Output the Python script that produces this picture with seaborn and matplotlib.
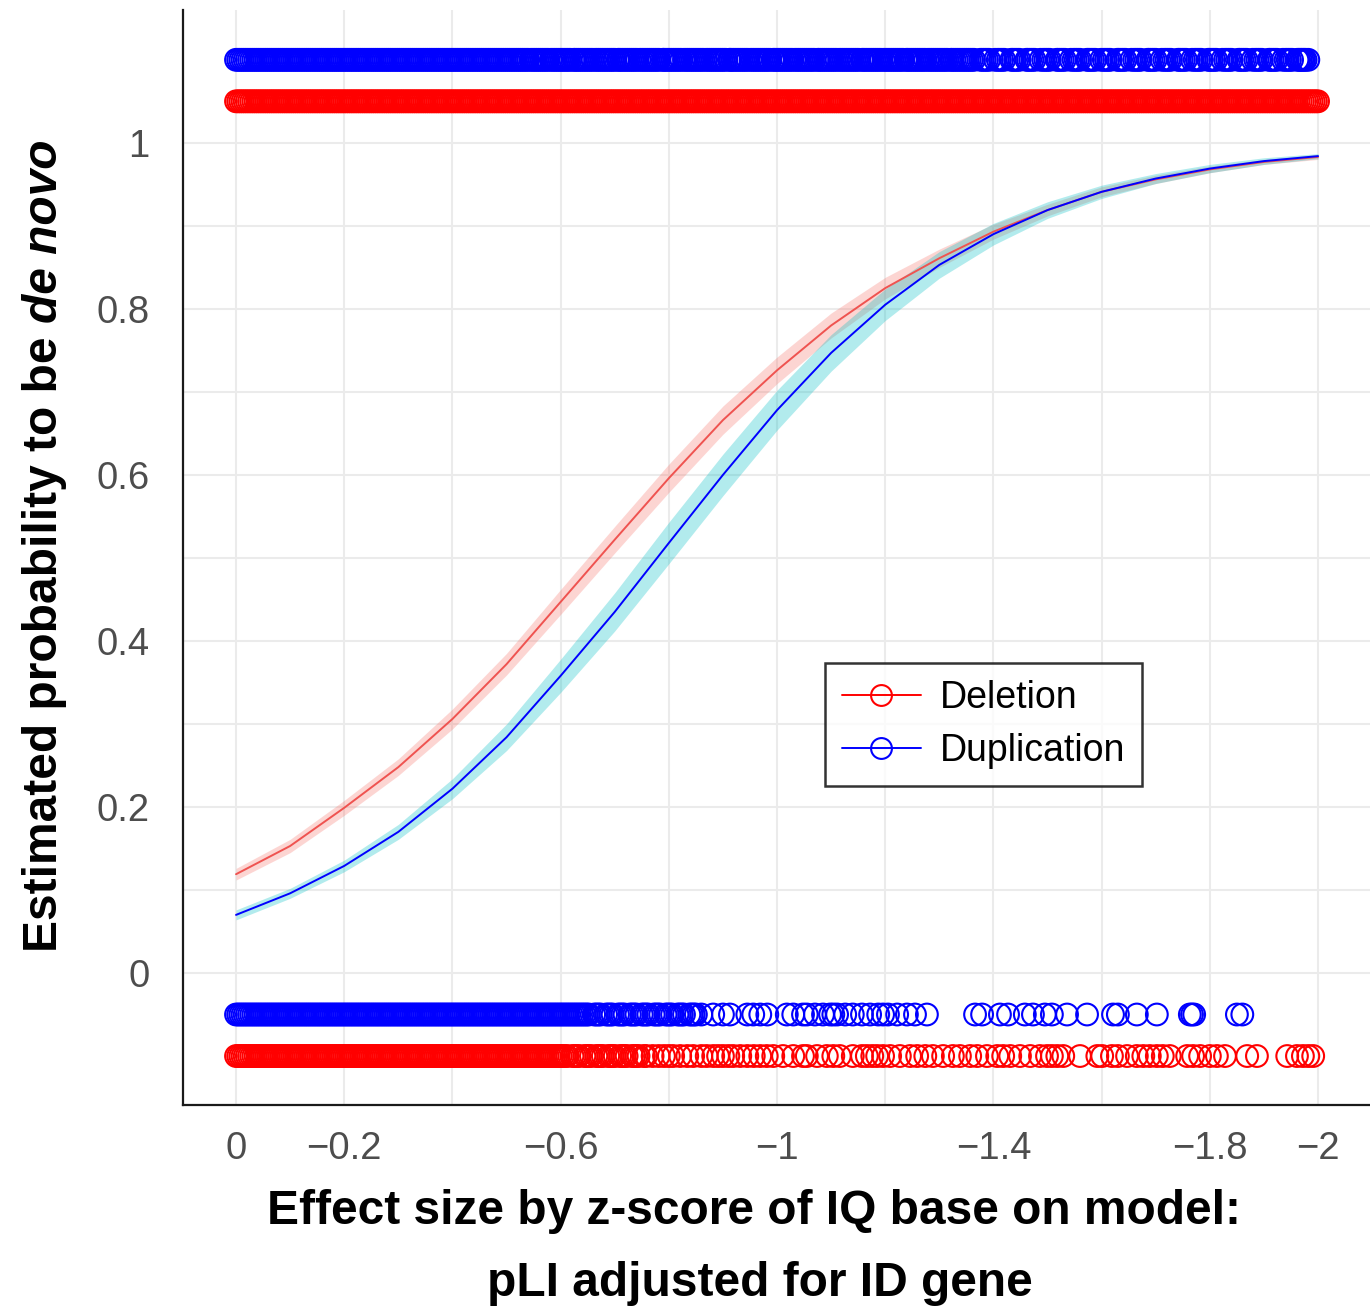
import numpy as np
import pandas as pd
import matplotlib
matplotlib.use("Agg")
import matplotlib.pyplot as plt
import seaborn as sns
from matplotlib.lines import Line2D

sns.set_style("white")
plt.rcParams["font.family"] = ["Liberation Sans", "DejaVu Sans"]

# ---------------- fitted logistic curves ----------------
x_fit = [0, -0.1, -0.2, -0.3, -0.4, -0.5, -0.6, -0.7, -0.8, -0.9, -1.0,
         -1.1, -1.2, -1.3, -1.4, -1.5, -1.6, -1.7, -1.8, -1.9, -2.0]
del_fit = [0.119, 0.153, 0.199, 0.248, 0.306, 0.372, 0.447, 0.522, 0.596, 0.666, 0.726,
           0.780, 0.825, 0.861, 0.893, 0.919, 0.941, 0.956, 0.968, 0.977, 0.983]
del_lo = [0.112, 0.145, 0.190, 0.238, 0.294, 0.359, 0.432, 0.506, 0.579, 0.649, 0.710,
          0.765, 0.812, 0.850, 0.884, 0.912, 0.935, 0.951, 0.964, 0.974, 0.980]
del_hi = [0.126, 0.161, 0.208, 0.258, 0.318, 0.385, 0.462, 0.538, 0.613, 0.683, 0.742,
          0.795, 0.838, 0.872, 0.902, 0.926, 0.947, 0.961, 0.972, 0.980, 0.986]
dup_fit = [0.070, 0.096, 0.129, 0.170, 0.222, 0.284, 0.358, 0.435, 0.518, 0.600, 0.678,
           0.747, 0.805, 0.853, 0.890, 0.919, 0.941, 0.957, 0.969, 0.978, 0.984]
dup_lo = [0.064, 0.090, 0.122, 0.161, 0.210, 0.268, 0.338, 0.412, 0.493, 0.575, 0.654,
          0.725, 0.786, 0.837, 0.877, 0.909, 0.933, 0.951, 0.964, 0.974, 0.981]
dup_hi = [0.076, 0.102, 0.136, 0.179, 0.234, 0.300, 0.378, 0.458, 0.543, 0.625, 0.702,
          0.769, 0.824, 0.869, 0.903, 0.929, 0.949, 0.963, 0.974, 0.982, 0.987]

# ---------------- observed CNVs (|effect size| in thousandths) ----------------
# de novo duplications (plotted at 1.10)
dup_denovo = [
    0,4,8,12,16,20,24,28,32,36,40,44,48,52,56,60,64,68,72,76,
    80,84,88,92,96,100,104,108,112,116,120,124,128,132,136,140,144,148,152,156,
    160,164,168,172,176,180,184,188,192,196,200,204,208,212,216,220,224,228,232,236,
    240,244,248,252,256,260,264,268,272,276,280,284,288,292,296,300,304,308,312,316,
    320,324,328,332,336,340,344,348,352,356,360,364,368,372,376,380,384,388,392,396,
    400,404,408,412,416,420,424,428,432,436,440,444,448,452,456,460,464,468,472,476,
    480,484,488,492,496,500,
    504,508,512,516,520,524,528,532,536,540,545,549,553,557,561,565,569,573,577,582,
    586,590,594,598,602,606,610,614,618,624,627,631,635,639,643,647,651,655,659,664,
    668,672,676,680,684,688,692,696,700,706,709,713,717,721,725,729,733,737,741,746,
    750,754,758,762,766,770,774,778,782,789,791,795,799,803,807,811,815,819,823,828,
    832,836,840,844,848,852,856,860,864,869,873,877,881,885,889,893,897,901,905,912,
    914,918,922,926,930,934,938,942,946,951,955,959,963,967,971,975,979,983,987,993,
    996,1000,1004,1008,1012,1016,1020,1024,1028,1033,1037,1041,1045,1049,1053,1057,1061,1065,1069,1075,
    1078,1082,1086,1090,1094,1098,1102,1106,1110,1115,1119,1123,1127,1131,1135,1139,1143,1147,1151,1157,
    1160,1164,1168,1172,1176,1180,1184,1188,1192,1197,1201,1205,1209,1213,1217,1221,1225,1229,1233,1239,
    1242,1246,1250,1254,1258,1262,1266,1270,1274,1279,1283,1287,1291,1295,1299,1303,1307,1311,1315,1321,
    1324,1328,1332,1336,1340,1344,1348,
    1352,1356,1360,1364,1376,1380,1384,1388,1392,1403,1408,1412,1416,1420,1433,1436,1440,1444,
    1448,1461,1464,1468,1472,1476,1487,1492,1496,1500,1504,1517,1520,1524,1528,1532,1543,1548,
    1552,1556,1560,1573,1576,1580,1584,1588,1599,1604,1608,1612,1616,1629,1632,1636,1640,1644,
    1655,1660,1664,1668,1672,1685,1688,1692,1696,1700,1711,1716,1720,1724,1728,1741,1744,1748,
    1752,1756,1767,1772,1776,1780,1784,1797,1800,1804,1808,1812,1823,1828,1832,1836,1840,1853,
    1856,1860,1864,1868,1879,1884,1888,1892,1896,1909,1912,1916,1920,1924,1935,1940,1944,1948,
    1952,1962,1965,1968,1971,1974,1977,1982]

# de novo deletions (plotted at 1.05)
del_denovo = [
    0,4,8,12,16,20,24,28,32,36,40,44,48,52,56,60,64,68,72,76,
    80,84,88,92,96,100,104,108,112,116,120,124,128,132,136,140,144,148,152,156,
    160,164,168,172,176,180,184,188,192,196,200,204,208,212,216,220,224,228,232,236,
    240,244,248,252,256,260,264,268,272,276,280,284,288,292,296,300,304,308,312,316,
    320,324,328,332,336,340,344,348,352,356,360,364,368,372,376,380,384,388,392,396,
    400,404,408,412,416,420,424,428,432,436,440,444,448,452,456,460,464,468,472,476,
    480,484,488,492,496,500,504,508,512,516,520,524,528,532,536,540,544,548,552,556,
    560,564,568,572,576,580,584,588,592,596,600,604,608,612,616,620,624,628,632,636,
    640,644,648,652,656,660,664,668,672,676,680,684,688,692,696,700,704,708,712,716,
    720,724,728,732,736,740,744,748,752,756,760,764,768,772,776,780,784,788,792,796,
    800,804,808,812,816,820,824,828,832,836,840,844,848,852,856,860,864,868,872,876,
    880,884,888,892,896,900,904,908,912,916,920,924,928,932,936,940,944,948,952,956,
    960,964,968,972,976,980,984,988,992,996,1000,1004,1008,1012,1016,1020,1024,1028,1032,1036,
    1040,1044,1048,1052,1056,1060,1064,1068,1072,1076,1080,1084,1088,1092,1096,1100,1104,1108,1112,1116,
    1120,1124,1128,1132,1136,1140,1144,1148,1152,1156,1160,1164,1168,1172,1176,1180,1184,1188,1192,1196,
    1200,1204,1208,1212,1216,1220,1224,1228,1232,1236,1240,1244,1248,1252,1256,1260,1264,1268,1272,1276,
    1280,1284,1288,1292,1296,1300,1304,1308,1312,1316,1320,1324,1328,1332,1336,1340,1344,1348,1352,1356,
    1360,1364,1368,1372,1376,1380,1384,1388,1392,1396,1400,1404,1408,1412,1416,1420,1424,1428,1432,1436,
    1440,1444,1448,1452,1456,1460,1464,1468,1472,1476,1480,1484,1488,1492,1496,1500,1504,1508,1512,1516,
    1520,1524,1528,1532,1536,1540,1544,1548,1552,1556,1560,1564,1568,1572,1576,1580,1584,1588,1592,1596,
    1600,1604,1608,1612,1616,1620,1624,1628,1632,1636,1640,1644,1648,1652,1656,1660,1664,1668,1672,1676,
    1680,1684,1688,1692,1696,1700,1704,1708,1712,1716,1720,1724,1728,1732,1736,1740,1744,1748,1752,1756,
    1760,1764,1768,1772,1776,1780,1784,1788,1792,1796,1800,1804,1808,1812,1816,1820,1824,1828,1832,1836,
    1840,1844,1848,1852,1856,1860,1864,1868,1872,1876,1880,1884,1888,1892,1896,1900,1904,1908,1912,1916,
    1920,1924,1928,1932,1936,1940,1944,1948,1952,1956,1960,1964,1968,1972,1976,1980,1984,1988,1992,1996,
    2000]

# inherited duplications (plotted at -0.05)
dup_inherited = [
    0,4,8,12,16,20,24,28,32,36,40,44,48,52,56,60,64,68,72,76,
    80,84,88,92,96,100,104,108,112,116,120,124,128,132,136,140,144,148,152,156,
    160,164,168,172,176,180,184,188,192,196,200,204,208,212,216,220,224,228,232,236,
    240,244,248,252,256,260,264,268,272,276,280,284,288,292,296,300,304,308,312,316,
    320,324,328,332,336,340,344,348,352,356,360,364,368,372,376,380,384,388,392,396,
    400,404,408,412,416,420,424,428,432,436,440,444,448,452,456,460,464,468,472,476,
    480,484,488,492,496,500,504,508,512,516,520,524,528,532,536,540,544,548,552,556,
    560,564,568,572,576,580,584,588,592,596,600,604,608,612,616,620,624,628,632,636,
    640,644,648,652,662,666,670,674,684,688,692,696,706,710,714,718,728,732,736,740,
    750,754,758,762,772,776,780,784,794,798,802,806,816,820,824,828,838,842,846,850,860,
    882,900,913,945,956,969,982,1018,1030,1048,1055,1070,1085,1098,1104,1111,1126,1140,
    1157,1172,1187,1196,1205,1222,1240,1255,1277,1366,1379,1412,1427,1458,1473,1495,
    1508,1536,1573,1621,1630,1665,1702,1763,1767,1771,1850,1860]

# inherited deletions (plotted at -0.10)
del_inherited = [
    0,4,8,12,16,20,24,28,32,36,40,44,48,52,56,60,64,68,72,76,
    80,84,88,92,96,100,104,108,112,116,120,124,128,132,136,140,144,148,152,156,
    160,164,168,172,176,180,184,188,192,196,200,204,208,212,216,220,224,228,232,236,
    240,244,248,252,256,260,264,268,272,276,280,284,288,292,296,300,304,308,312,316,
    320,324,328,332,336,340,344,348,352,356,360,364,368,372,376,380,384,388,392,396,
    400,404,408,412,416,420,424,428,432,436,440,444,448,452,456,460,464,468,472,476,
    480,484,488,492,496,500,504,508,512,516,520,524,528,532,536,540,544,548,552,556,
    560,564,568,572,576,580,584,588,592,596,600,
    604,608,612,622,626,630,634,644,648,652,656,666,670,674,678,688,692,696,700,710,
    714,718,722,732,736,740,744,754,758,
    770,781,791,800,808,821,834,845,860,870,882,891,900,910,919,932,945,
    957,969,981,993,1011,1030,1048,1055,1074,1092,1104,1116,1140,1157,1166,1176,1185,
    1196,1209,1227,1246,1259,1274,1288,1307,1325,1338,1357,1370,1388,1407,1418,1431,
    1449,1468,1486,1499,1508,1518,1529,1560,1592,1601,1619,1630,1647,1665,1677,1689,
    1702,1713,1726,1758,1769,1782,1800,1813,1828,1869,1887,1943,1961,1972,1982,1991]

row_levels = {"dup_denovo": 1.10, "del_denovo": 1.05,
              "dup_inherited": -0.05, "del_inherited": -0.10}

x_ticks = [0, -0.2, -0.4, -0.6, -0.8, -1.0, -1.2, -1.4, -1.6, -1.8, -2.0]
x_tick_labels = ["0", "\u22120.2", "", "\u22120.6", "", "\u22121", "", "\u22121.4", "", "\u22121.8", "\u22122"]
y_ticks = [0, 0.1, 0.2, 0.3, 0.4, 0.5, 0.6, 0.7, 0.8, 0.9, 1.0]
y_tick_labels = ["0", "", "0.2", "", "0.4", "", "0.6", "", "0.8", "", "1"]

RED = "#FF0000"
BLUE = "#0000FF"
RED_LINE = "#EF5350"

# ---------------- figure ----------------
fig = plt.figure(figsize=(13.7, 13.11), dpi=100)
ax = fig.add_axes([0.13358, 0.15713, 0.86642, 0.83524])

fit_df = pd.DataFrame({
    "x": x_fit * 2,
    "p": del_fit + dup_fit,
    "type": ["Deletion"] * len(x_fit) + ["Duplication"] * len(x_fit),
})

ax.fill_between(x_fit, del_lo, del_hi, color="#F8766D", alpha=0.3, lw=0, zorder=2)
ax.fill_between(x_fit, dup_lo, dup_hi, color="#00BFC4", alpha=0.3, lw=0, zorder=2)
sns.lineplot(data=fit_df, x="x", y="p", hue="type",
             palette={"Deletion": RED_LINE, "Duplication": BLUE},
             lw=1.4, legend=False, ax=ax, zorder=3)


def draw_row(vals, level, color):
    xs = -np.array(vals, dtype=float) / 1000.0
    ys = np.full(len(xs), level)
    sns.scatterplot(x=xs, y=ys, ax=ax, marker="o", s=245, color=color,
                    facecolor="none", edgecolor=color, linewidth=1.5,
                    legend=False, zorder=4)


draw_row(dup_denovo, row_levels["dup_denovo"], BLUE)
draw_row(del_denovo, row_levels["del_denovo"], RED)
draw_row(dup_inherited, row_levels["dup_inherited"], BLUE)
draw_row(del_inherited, row_levels["del_inherited"], RED)

ax.set_xlim(0.098, -2.096)
ax.set_ylim(-0.159, 1.160)
ax.set_xticks(x_ticks)
ax.set_xticklabels(x_tick_labels)
ax.set_yticks(y_ticks)
ax.set_yticklabels(y_tick_labels)
ax.set_xlabel("")
ax.set_ylabel("")

ax.set_axisbelow(True)
ax.grid(True, color="#EBEBEB", lw=1.5)
for s in ["top", "right"]:
    ax.spines[s].set_visible(False)
for s in ["left", "bottom"]:
    ax.spines[s].set_color("#1A1A1A")
    ax.spines[s].set_linewidth(1.6)
ax.tick_params(axis="both", direction="out", length=9, width=1.3,
               color="#333333", labelcolor="#4D4D4D", labelsize=27.5)
ax.tick_params(axis="x", pad=10)
ax.tick_params(axis="y", pad=15)

handles = [
    Line2D([], [], color=RED, lw=1.4, marker="o", ms=15, mfc="none", mec=RED, mew=1.5),
    Line2D([], [], color=BLUE, lw=1.4, marker="o", ms=15, mfc="none", mec=BLUE, mew=1.5),
]
leg = ax.legend(handles, ["Deletion", "Duplication"], loc="upper left",
                bbox_to_anchor=(0.541, 0.4037), borderaxespad=0, frameon=True,
                fancybox=False, edgecolor="black", fontsize=27, handlelength=2.1,
                handletextpad=0.5, labelspacing=0.45, borderpad=0.45)
leg.get_frame().set_linewidth(1.8)
for t in leg.get_texts():
    t.set_color("black")
leg.set_zorder(10)

# axis titles
fig.text(0.55, 1 - 1212 / 1311, "Effect size by z-score of IQ base on model:",
         ha="center", va="center", fontsize=34.5, fontweight="bold", color="black")
fig.text(0.555, 1 - 1283 / 1311, "pLI adjusted for ID gene",
         ha="center", va="center", fontsize=34.5, fontweight="bold", color="black")
t1 = fig.text(0.0328, 1 - 952 / 1311, "Estimated probability to be",
              ha="center", va="bottom", rotation=90, fontsize=34.5, fontweight="bold",
              color="black")
ax.annotate("de novo", xy=(0.5, 1.0), xycoords=t1, xytext=(0, 9.5),
            textcoords="offset points", ha="center", va="bottom", rotation=90,
            fontsize=34.5, fontweight="bold", fontstyle="italic", color="black",
            annotation_clip=False)

fig.savefig("out.png", dpi=100)
